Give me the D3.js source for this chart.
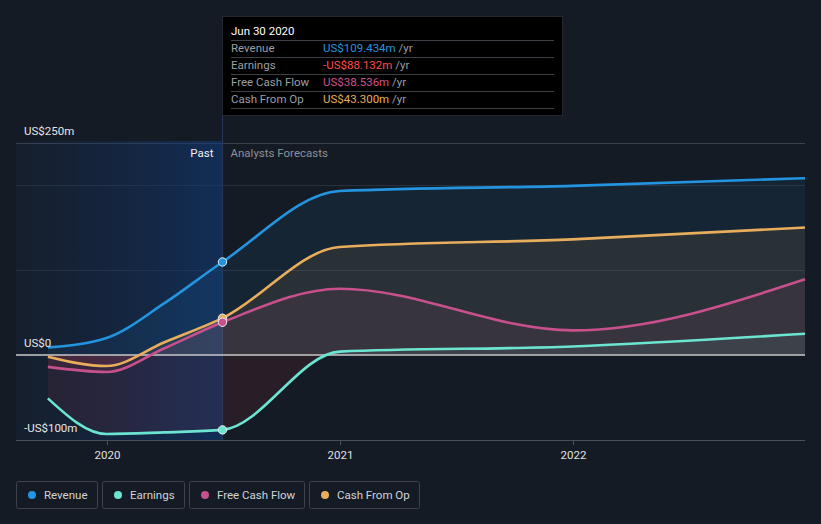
<!DOCTYPE html>
<html><head><meta charset="utf-8">
<script src="https://cdn.jsdelivr.net/npm/d3@7"></script>
<style>
html,body{margin:0;padding:0;background:#151b24;}
svg{display:block;font-family:Roboto,"Open Sans",sans-serif;}
</style></head>
<body>
<svg id="chart" width="821" height="524"></svg>
<script>
// ---- data ----
const dates = ["2019-09-30","2019-12-31","2020-03-31","2020-06-30","2020-12-31","2021-12-31","2022-12-31"];
const revenue = [9, 20, 61, 109.434, 193, 199, 208];
const earnings = [-51, -93, -91, -88.132, 4, 10, 25];
const freeCashFlow = [-14, -20, 8, 38.536, 78, 29, 89];
const cashFromOp = [-2, -13, 15, 43.3, 127, 136, 150];
const yTicks = [250, 0, -100];
const yTickLabels = ["US$250m", "US$0", "-US$100m"];
const gridValues = [250, 200, 100];
const xTicks = ["2020-01-01","2021-01-01","2022-01-01"];
const xTickLabels = ["2020","2021","2022"];
const seriesNames = ["Revenue","Earnings","Free Cash Flow","Cash From Op"];
const seriesColors = ["#2394df","#6ce5d0","#c8508c","#e8ae5c"];
const tooltipDate = "Jun 30 2020";
const tooltipValues = ["US$109.434m","-US$88.132m","US$38.536m","US$43.300m"];
const tooltipColors = ["#2394df","#ff4d4d","#d0508e","#e8ae5c"];
const pastIndex = 3;

(function(){
const parse = d3.timeParse("%Y-%m-%d");
const svg = d3.select("#chart");
const pL = 16, pR = 805, pT = 141, pB = 440;
const x = d3.scaleTime().domain([parse("2019-08-11"), parse("2022-12-31")]).range([pL, pR]);
const y = d3.scaleLinear().domain([-100, 250]).range([440, 142.5]);

const series = [revenue, earnings, freeCashFlow, cashFromOp].map((vals, i) => ({
  name: seriesNames[i], color: seriesColors[i],
  pts: vals.map((v, j) => ({d: parse(dates[j]), v}))
}));

const defs = svg.append("defs");
const g1 = defs.append("linearGradient").attr("id","past").attr("x1","0").attr("x2","1").attr("y1","0").attr("y2","0");
g1.append("stop").attr("offset","0").attr("stop-color","#16325e").attr("stop-opacity",0.15);
g1.append("stop").attr("offset","1").attr("stop-color","#103a78").attr("stop-opacity",0.6);
defs.append("clipPath").attr("id","above").append("rect").attr("x",0).attr("y",0).attr("width",821).attr("height",y(0));
defs.append("clipPath").attr("id","below").append("rect").attr("x",0).attr("y",y(0)).attr("width",821).attr("height",524);

const xPast = x(parse(dates[pastIndex]));

// grid
svg.selectAll(".grid").data(gridValues).enter().append("line")
  .attr("x1", pL).attr("x2", pR).attr("y1", d => Math.round(y(d))+0.5).attr("y2", d => Math.round(y(d))+0.5)
  .attr("stroke", (d,i) => i===0 ? "#3b414c" : "#2a303a").attr("stroke-width",1);

// past region
svg.append("rect").attr("x", pL).attr("y", pT).attr("width", xPast-pL).attr("height", pB-pT)
  .attr("fill","url(#past)");
svg.append("line").attr("x1", xPast).attr("x2", xPast).attr("y1", 116).attr("y2", pB)
  .attr("stroke","#27385a").attr("stroke-width",1);

// areas
const area = d3.area().x(d => x(d.d)).y0(y(0)).y1(d => y(d.v)).curve(d3.curveMonotoneX);
const line = d3.line().x(d => x(d.d)).y(d => y(d.v)).curve(d3.curveMonotoneX);
series.forEach(s => {
  svg.append("path").attr("d", area(s.pts)).attr("fill", s.color).attr("fill-opacity",0.09).attr("clip-path","url(#above)");
  svg.append("path").attr("d", area(s.pts)).attr("fill", "#e0455a").attr("fill-opacity",0.09).attr("clip-path","url(#below)");
});

// zero line
svg.append("line").attr("x1", pL).attr("x2", pR).attr("y1", y(0)).attr("y2", y(0))
  .attr("stroke","#c8c8c8").attr("stroke-width",1.3);

// lines
series.forEach(s => {
  svg.append("path").attr("d", line(s.pts)).attr("fill","none").attr("stroke", s.color).attr("stroke-width",2.6);
});

// markers
[series[0], series[3], series[2], series[1]].forEach(s => {
  const p = s.pts[pastIndex];
  svg.append("circle").attr("cx", x(p.d)).attr("cy", y(p.v)).attr("r",4.2)
    .attr("fill", s.color).attr("stroke","#e8eef5").attr("stroke-width",1);
});

// bottom axis
svg.append("line").attr("x1", pL).attr("x2", pR).attr("y1", pB+0.5).attr("y2", pB+0.5).attr("stroke","#4a505a");
xTicks.forEach((t,i) => {
  const xx = Math.round(x(parse(t)))+0.5;
  svg.append("line").attr("x1",xx).attr("x2",xx).attr("y1",pB).attr("y2",pB+5).attr("stroke","#4a505a");
  svg.append("text").attr("x", xx).attr("y", 459).attr("text-anchor","middle").attr("fill","#e0e0e0")
    .attr("font-size",11.5).text(xTickLabels[i]);
});

// y labels
yTicks.forEach((t,i) => {
  svg.append("text").attr("x",24).attr("y", y(t)-8).attr("fill","#e6e6e6").attr("font-size",11.5).text(yTickLabels[i]);
});

svg.append("text").attr("x", xPast-9).attr("y",157).attr("text-anchor","end").attr("fill","#f0f0f0").attr("font-size",11.5).text("Past");
svg.append("text").attr("x", xPast+8).attr("y",157).attr("fill","#8c9098").attr("font-size",11.5).text("Analysts Forecasts");

// tooltip
const tt = svg.append("g");
tt.append("rect").attr("x",222.5).attr("y",16.5).attr("width",340).attr("height",99).attr("fill","#000").attr("stroke","#23272e");
tt.append("text").attr("x",231).attr("y",35).attr("fill","#fff").attr("font-size",11.5).text(tooltipDate);
[40,57,74,91,108].forEach(yy => tt.append("line").attr("x1",231).attr("x2",554).attr("y1",yy+0.5).attr("y2",yy+0.5).attr("stroke","#3c3f45"));
seriesNames.forEach((n,i) => {
  const by = 52 + i*17;
  tt.append("text").attr("x",231).attr("y",by).attr("fill","#9a9ea5").attr("font-size",11.5).text(n);
  const t = tt.append("text").attr("x",323).attr("y",by).attr("font-size",11.5);
  t.append("tspan").attr("fill",tooltipColors[i]).text(tooltipValues[i]);
  t.append("tspan").attr("fill","#9a9ea5").text(" /yr");
});

// legend
const legX = [16,102,189,309], legW = [81,82,115,110];
seriesNames.forEach((n,i) => {
  const g = svg.append("g");
  g.append("rect").attr("x",legX[i]+0.5).attr("y",481.5).attr("width",legW[i]).attr("height",27).attr("rx",2)
    .attr("fill","none").attr("stroke","#3d424b");
  g.append("circle").attr("cx",legX[i]+16).attr("cy",495).attr("r",4).attr("fill",seriesColors[i]);
  g.append("text").attr("x",legX[i]+28).attr("y",499).attr("fill","#d0d3d8").attr("font-size",11.5).text(n);
});
})();
</script>
</body></html>
